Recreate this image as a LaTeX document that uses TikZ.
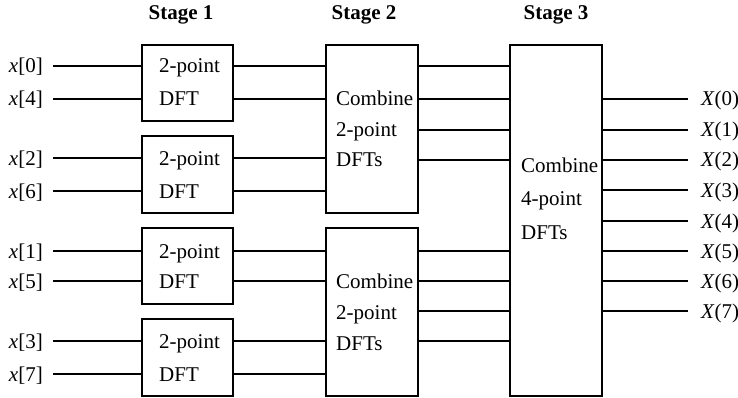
\documentclass[tikz,border=0pt]{standalone}
\usepackage{fontspec}
\setmainfont{Liberation Serif}
\usetikzlibrary{fit}
\begin{document}
\begin{tikzpicture}[x=1pt,y=-1pt,
  box/.style={draw, line width=1.3pt, inner sep=0pt},
  txt/.style={anchor=base west, inner sep=0pt, font=\fontsize{21}{25}\selectfont},
  inl/.style={anchor=base east, inner sep=0pt, font=\fontsize{21}{25}\selectfont},
  hdr/.style={anchor=base, inner sep=0pt, font=\fontsize{21}{25}\selectfont\bfseries},
  wire/.style={line width=1.1pt}]
\useasboundingbox (0,0) rectangle (738,398);
% headers
\node[hdr] (h1) at (181,20) {Stage 1};
\node[hdr] (h2) at (364,20) {Stage 2};
\node[hdr] (h3) at (556,20) {Stage 3};
% boxes
\node[box, fit={(142,45) (233,121)}] (s1a) {};
\node[box, fit={(142,136) (233,213)}] (s1b) {};
\node[box, fit={(142,228) (233,304)}] (s1c) {};
\node[box, fit={(142,319) (233,396)}] (s1d) {};
\node[box, fit={(326,45) (418,213)}] (s2a) {};
\node[box, fit={(326,228) (418,396)}] (s2b) {};
\node[box, fit={(510,45) (602,396)}] (s3) {};
% box texts
\node[txt] (t1a1) at (159,73) {2-point};
\node[txt] (t1a2) at (159,106) {DFT};
\node[txt] (t1b1) at (159,165) {2-point};
\node[txt] (t1b2) at (159,198) {DFT};
\node[txt] (t1c1) at (159,258) {2-point};
\node[txt] (t1c2) at (159,288) {DFT};
\node[txt] (t1d1) at (159,348) {2-point};
\node[txt] (t1d2) at (159,381) {DFT};
\node[txt] (t2a1) at (336,106) {Combine};
\node[txt] (t2a2) at (336,137) {2-point};
\node[txt] (t2a3) at (336,167) {DFTs};
\node[txt] (t2b1) at (336,288) {Combine};
\node[txt] (t2b2) at (336,319) {2-point};
\node[txt] (t2b3) at (336,350) {DFTs};
\node[txt] (t31) at (521,172) {Combine};
\node[txt] (t32) at (521,205) {4-point};
\node[txt] (t33) at (521,239) {DFTs};
% inputs
\foreach \y/\n in {66/0,99/4,158/2,191/6,251/1,281/5,341/3,374/7} {
  \coordinate (in\n) at (53,\y);
  \node[inl] (xl\n) at (43,\y+7) {\textit{x}[\n]};
}
\draw[wire] (in0) -- (in0 -| s1a.west);
\draw[wire] (in4) -- (in4 -| s1a.west);
\draw[wire] (in2) -- (in2 -| s1b.west);
\draw[wire] (in6) -- (in6 -| s1b.west);
\draw[wire] (in1) -- (in1 -| s1c.west);
\draw[wire] (in5) -- (in5 -| s1c.west);
\draw[wire] (in3) -- (in3 -| s1d.west);
\draw[wire] (in7) -- (in7 -| s1d.west);
% stage 1 -> stage 2
\draw[wire] (in0 -| s1a.east) -- (in0 -| s2a.west);
\draw[wire] (in4 -| s1a.east) -- (in4 -| s2a.west);
\draw[wire] (in2 -| s1b.east) -- (in2 -| s2a.west);
\draw[wire] (in6 -| s1b.east) -- (in6 -| s2a.west);
\draw[wire] (in1 -| s1c.east) -- (in1 -| s2b.west);
\draw[wire] (in5 -| s1c.east) -- (in5 -| s2b.west);
\draw[wire] (in3 -| s1d.east) -- (in3 -| s2b.west);
\draw[wire] (in7 -| s1d.east) -- (in7 -| s2b.west);
% stage 2 -> stage 3
\foreach \y/\n in {66/1,99/2,130/3,160/4} {
  \coordinate (ma\n) at (0,\y);
  \draw[wire] (ma\n -| s2a.east) -- (ma\n -| s3.west);
}
\foreach \y/\n in {251/1,281/2,311/3,341/4} {
  \coordinate (mb\n) at (0,\y);
  \draw[wire] (mb\n -| s2b.east) -- (mb\n -| s3.west);
}
% outputs
\foreach \y/\n in {99/0,130/1,160/2,190/3,221/4,251/5,281/6,311/7} {
  \coordinate (o\n) at (688,\y);
  \draw[wire] (o\n -| s3.east) -- (o\n);
  \node[txt] (X\n) at (701,\y+7) {\textit{X}(\n)};
}
\end{tikzpicture}
\end{document}
